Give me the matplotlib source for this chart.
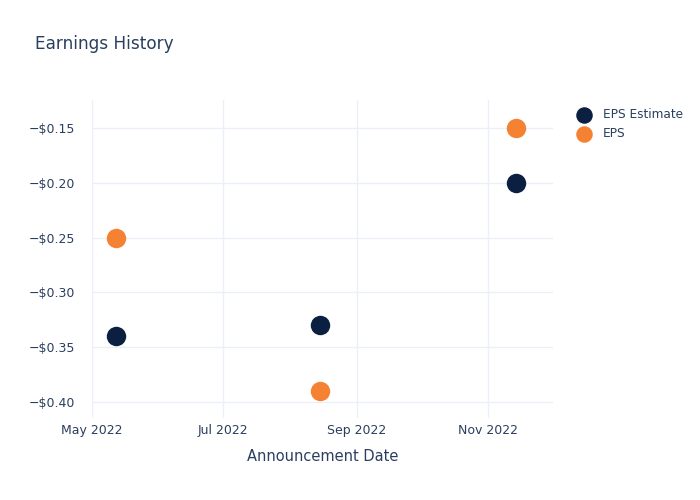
import matplotlib
matplotlib.use("Agg")
import matplotlib.pyplot as plt
import matplotlib.dates as mdates
import numpy as np
from matplotlib.ticker import FuncFormatter
import datetime as dt

dates = ["2022-05-12", "2022-08-15", "2022-11-14"]
eps_estimate = [-0.34, -0.33, -0.20]
eps_actual = [-0.25, -0.39, -0.15]
series_names = ["EPS Estimate", "EPS"]

x = [dt.datetime.strptime(d, "%Y-%m-%d") for d in dates]

text_color = "#2a3f5f"
grid_color = "#ebf0f8"

fig = plt.figure(figsize=(7, 5), dpi=100)
ax = fig.add_axes([92/700, 1-418/500, (553-92)/700, (418-100)/500])

ax.scatter(x, eps_estimate, s=14**2, color="#0b1f40", zorder=3, label=series_names[0], linewidths=0)
ax.scatter(x, eps_actual, s=14**2, color="#f58233", zorder=3, label=series_names[1], linewidths=0)

ax.set_xlim(dt.datetime(2022, 5, 1), dt.datetime(2022, 12, 1))
ax.set_ylim(-0.4146, -0.1245)

ax.xaxis.set_major_locator(mdates.MonthLocator(bymonth=[5, 7, 9, 11]))
ax.xaxis.set_major_formatter(mdates.DateFormatter("%b %Y"))
ax.set_yticks([-0.40, -0.35, -0.30, -0.25, -0.20, -0.15])
ax.yaxis.set_major_formatter(FuncFormatter(lambda v, p: ("\u2212$%.2f" % abs(v)) if v < 0 else "$%.2f" % v))

for s in ax.spines.values():
    s.set_visible(False)
ax.grid(True, color=grid_color, linewidth=1)
ax.set_axisbelow(True)
ax.tick_params(axis="both", length=0, colors=text_color, labelsize=9)
ax.tick_params(axis="y", pad=12)
ax.tick_params(axis="x", pad=4)

ax.set_xlabel("Announcement Date", color=text_color, fontsize=10.5, labelpad=9)

fig.text(35/700, 1-44/500, "Earnings History", color=text_color, fontsize=12.2, va="center", ha="left")

leg = ax.legend(loc="upper left", bbox_to_anchor=(1.025, 0.997), frameon=False,
                fontsize=8.7, labelcolor=text_color, handletextpad=0.6,
                labelspacing=0.5, borderaxespad=0.2, markerscale=0.85)

fig.savefig("out.png", dpi=100, facecolor="white")
